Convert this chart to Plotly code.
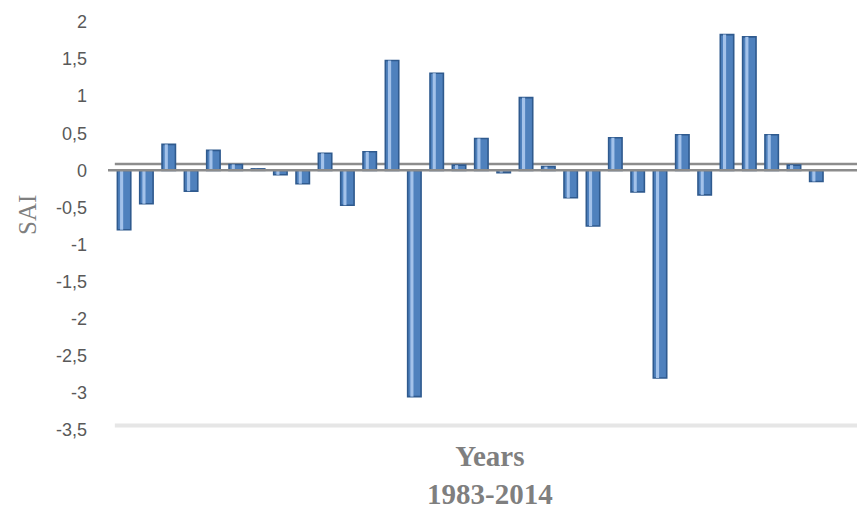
import plotly.graph_objects as go

years = list(range(1983, 2015))
sai = [-0.80, -0.45, 0.35, -0.28, 0.27, 0.08, 0.02, -0.06, -0.18, 0.23,
       -0.47, 0.25, 1.48, -3.05, 1.31, 0.07, 0.43, -0.03, 0.98, 0.05,
       -0.37, -0.75, 0.44, -0.29, -2.80, 0.48, -0.33, 1.83, 1.80, 0.48,
       0.07, -0.15]
y_ticks = [2, 1.5, 1, 0.5, 0, -0.5, -1, -1.5, -2, -2.5, -3, -3.5]
y_tick_text = [str(v).replace('.', ',') for v in y_ticks]

fig = go.Figure()
fig.add_trace(go.Bar(
    x=years, y=sai, width=0.6,
    marker=dict(color='#4F81BD', line=dict(color='#2F5A8E', width=1.6)),
    hoverinfo='x+y'))
fig.add_trace(go.Bar(
    x=years, y=sai, width=0.14, offset=-0.18,
    marker=dict(color='#A3C2EA', line=dict(width=0)),
    hoverinfo='skip'))

# page has an 8px body margin; figure is sized/offset to compensate
L, R, T, B = 100, 0, 14, 80
PW, PH = 757, 408
fig.update_layout(
    width=857, height=502,
    margin=dict(l=L, r=R, t=T, b=B),
    paper_bgcolor='white', plot_bgcolor='white',
    barmode='overlay', showlegend=False,
    xaxis=dict(range=[1982.28, 2016.18], showticklabels=False, showgrid=False,
               zeroline=False, showline=False, ticks=''),
    yaxis=dict(range=[-3.5, 2], tickvals=y_ticks, ticktext=y_tick_text,
               showgrid=False, zeroline=False, showline=False, ticks='',
               ticklabelstandoff=20,
               tickfont=dict(family='Liberation Sans', size=18, color='#595959')),
    shapes=[
        dict(type='line', xref='paper', yref='y', x0=0, x1=1, y0=0, y1=0,
             line=dict(color='#8C8C8C', width=2.5), layer='above'),
        dict(type='line', xref='paper', yref='y', x0=0.009, x1=1, y0=0.085, y1=0.085,
             line=dict(color='#8C8C8C', width=2.5), layer='below'),
        dict(type='line', xref='paper', yref='y', x0=0.009, x1=1, y0=-3.44, y1=-3.44,
             line=dict(color='#E6E6E6', width=4), layer='below'),
    ],
    annotations=[
        dict(text='SAI', xref='paper', yref='paper', x=(27 - 108) / PW, y=(430 - 215) / PH,
             textangle=-90, showarrow=False, xanchor='center', yanchor='middle',
             font=dict(family='Liberation Serif', size=25, color='#7F7F7F')),
        dict(text='<b>Years</b><br><b>1983-2014</b>', xref='paper', yref='paper',
             x=(490 - 108) / PW, y=(430 - 475) / PH, showarrow=False,
             xanchor='center', yanchor='middle', align='center',
             font=dict(family='Liberation Serif', size=29, color='#7F7F7F')),
    ],
)

fig.write_html('out.html')
